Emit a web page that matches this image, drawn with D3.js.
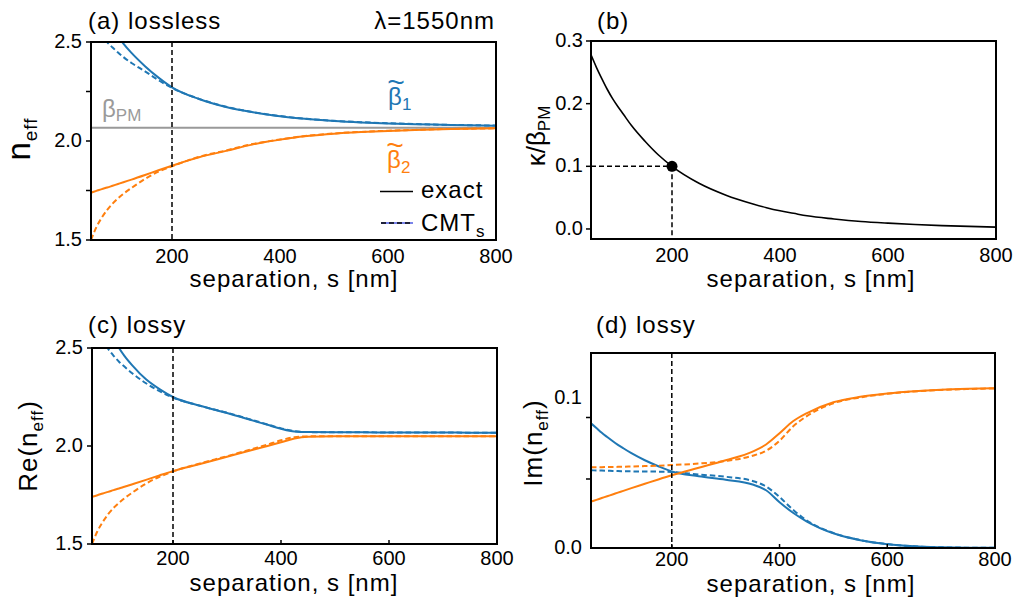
<!DOCTYPE html>
<html>
<head>
<meta charset="utf-8">
<script src="https://cdn.jsdelivr.net/npm/d3@7"></script>
<style>
  body { margin: 0; background: #fff; }
  svg { display: block; font-family: "Liberation Sans", Arial, Helvetica, sans-serif; }
</style>
</head>
<body>
<svg id="fig" width="1014" height="602"></svg>
<script>
// ---------- data ----------
// waveguide separation s [nm]
const sep = [50, 60, 70, 80, 90, 100, 110, 125, 150, 175, 200, 250, 300, 350, 375, 400, 425, 450, 500, 550, 600, 650, 700, 750, 800];
const xTickVals = [200, 400, 600, 800];
const markS = 200;

// (a) lossless: effective indices, exact and coupled-mode theory (CMT_s)
const betaPM = 2.067;
const aBeta1Exact = [2.74, 2.70, 2.655, 2.61, 2.57, 2.53, 2.492, 2.445, 2.378, 2.320, 2.271, 2.212, 2.172, 2.145, 2.134, 2.125, 2.117, 2.111, 2.101, 2.094, 2.089, 2.085, 2.082, 2.079, 2.077];
const aBeta1CMT   = [2.62, 2.58, 2.54, 2.50, 2.472, 2.447, 2.424, 2.394, 2.352, 2.307, 2.268, 2.213, 2.173, 2.146, 2.135, 2.126, 2.118, 2.112, 2.102, 2.095, 2.090, 2.086, 2.082, 2.080, 2.078];
const aBeta2Exact = [1.739, 1.748, 1.757, 1.765, 1.774, 1.783, 1.792, 1.805, 1.828, 1.852, 1.875, 1.918, 1.950, 1.983, 1.996, 2.007, 2.017, 2.025, 2.037, 2.045, 2.051, 2.056, 2.059, 2.062, 2.064];
const aBeta2CMT   = [1.500, 1.565, 1.613, 1.652, 1.684, 1.710, 1.733, 1.763, 1.808, 1.845, 1.872, 1.920, 1.952, 1.985, 1.997, 2.008, 2.018, 2.026, 2.038, 2.046, 2.052, 2.056, 2.060, 2.062, 2.064];
const aYTicks = [1.5, 1.75, 2.0, 2.25, 2.5];
const aYLabels = [1.5, 2.0, 2.5];

// (b) normalised coupling coefficient kappa / beta_PM
const bKappa = [0.278, 0.258, 0.240, 0.223, 0.208, 0.195, 0.183, 0.165, 0.140, 0.118, 0.100, 0.073, 0.054, 0.040, 0.034, 0.029, 0.025, 0.021, 0.016, 0.012, 0.0093, 0.0071, 0.0054, 0.0041, 0.003];
const bMarkKappa = 0.1;
const bYTicks = [0.0, 0.1, 0.2, 0.3];

// (c) lossy: real part of the effective index
const cRe1Exact = [2.75, 2.70, 2.65, 2.60, 2.55, 2.50, 2.46, 2.41, 2.34, 2.29, 2.25, 2.205, 2.168, 2.128, 2.108, 2.088, 2.074, 2.071, 2.070, 2.070, 2.069, 2.069, 2.069, 2.068, 2.068];
const cRe1CMT   = [2.62, 2.58, 2.535, 2.495, 2.46, 2.43, 2.405, 2.37, 2.32, 2.28, 2.247, 2.205, 2.170, 2.130, 2.110, 2.090, 2.076, 2.071, 2.070, 2.070, 2.069, 2.069, 2.069, 2.068, 2.068];
const cRe2Exact = [1.741, 1.749, 1.758, 1.766, 1.775, 1.783, 1.792, 1.805, 1.827, 1.850, 1.872, 1.908, 1.945, 1.982, 2.000, 2.019, 2.038, 2.047, 2.050, 2.050, 2.050, 2.050, 2.050, 2.050, 2.050];
const cRe2CMT   = [1.500, 1.565, 1.613, 1.652, 1.684, 1.710, 1.733, 1.763, 1.808, 1.843, 1.870, 1.911, 1.948, 1.987, 2.007, 2.029, 2.045, 2.049, 2.050, 2.050, 2.050, 2.050, 2.050, 2.050, 2.050];
const cYTicks = [1.5, 2.0, 2.5];

// (d) lossy: imaginary part of the effective index
const dIm1Exact = [0.0831, 0.0800, 0.0768, 0.0740, 0.0713, 0.0688, 0.0665, 0.0632, 0.0585, 0.0545, 0.0510, 0.0478, 0.0455, 0.0423, 0.0385, 0.0305, 0.0235, 0.0178, 0.0098, 0.0052, 0.0025, 0.0011, 0.0005, 0.0002, 0.0001];
const dIm1CMT   = [0.0518, 0.0517, 0.0516, 0.0515, 0.0514, 0.0513, 0.0512, 0.0511, 0.0510, 0.0509, 0.0507, 0.0490, 0.0475, 0.0447, 0.0410, 0.0340, 0.0255, 0.0185, 0.0100, 0.0053, 0.0026, 0.0011, 0.0005, 0.0002, 0.0001];
const dIm2Exact = [0.0309, 0.0321, 0.0333, 0.0345, 0.0357, 0.0369, 0.0381, 0.0399, 0.0428, 0.0457, 0.0485, 0.0535, 0.0585, 0.0643, 0.0690, 0.0765, 0.0845, 0.0898, 0.0972, 0.1008, 0.1030, 0.1045, 0.1055, 0.1061, 0.1065];
const dIm2CMT   = [0.0538, 0.0539, 0.0539, 0.0540, 0.0540, 0.0541, 0.0542, 0.0543, 0.0546, 0.0549, 0.0553, 0.0563, 0.0580, 0.0615, 0.0648, 0.0715, 0.0810, 0.0878, 0.0965, 0.1004, 0.1028, 0.1044, 0.1054, 0.1060, 0.1064];
const dYLabels = [0.0, 0.1];
const dYMinorTicks = [0.046, 0.087];

// ---------- drawing ----------
const BLUE = "#1f77b4", ORANGE = "#ff7f0e", GREY = "#999999";
const svg = d3.select("#fig");

const boxes = {
  a: { l: 91,  r: 496, t: 42,  b: 240, y: [1.5, 2.5] },
  b: { l: 591, r: 996, t: 41,  b: 239, y: [-0.016, 0.3] },
  c: { l: 92,  r: 497, t: 348, b: 544, y: [1.5, 2.5] },
  d: { l: 591, r: 995, t: 353, b: 548, y: [0, 0.13] }
};

// text with optional subscripts; parts: [{t}, {t, sub: px, size}]
function label(parent, x, y, parts, opts = {}) {
  const t = parent.append("text")
    .attr("x", x).attr("y", y)
    .attr("font-size", opts.size || 24)
    .attr("fill", opts.color || "#000")
    .attr("text-anchor", opts.anchor || "start")
    .style("letter-spacing", (opts.ls != null ? opts.ls : 1) + "px");
  if (opts.transform) t.attr("transform", opts.transform);
  let shift = 0;
  parts.forEach(p => {
    const s = t.append("tspan").text(p.t);
    if (p.size) s.attr("font-size", p.size);
    if (p.sub) {
      s.attr("dy", p.sub - shift);
      shift = p.sub;
    } else if (shift) {
      s.attr("dy", -shift);
      shift = 0;
    }
  });
  return t;
}

// beta with a wide tilde accent and a numeric subscript, as one text element
function betaTilde(x, y, sub, color) {
  const t = svg.append("text").attr("fill", color).attr("font-size", 24);
  t.append("tspan").attr("x", x).attr("y", y).text("β");
  t.append("tspan").attr("x", x - 0.7).attr("y", y - 13.5).attr("font-size", 30).text("~");
  t.append("tspan").attr("x", x + 14).attr("y", y + 5).attr("font-size", 17).text(sub);
}

function panel(key) {
  const bx = boxes[key];
  const x = d3.scaleLinear().domain([50, 800]).range([bx.l, bx.r]);
  const y = d3.scaleLinear().domain(bx.y).range([bx.b, bx.t]);
  const g = svg.append("g");
  const clipId = "clip-" + key;
  svg.append("clipPath").attr("id", clipId)
    .append("rect").attr("x", bx.l).attr("y", bx.t)
    .attr("width", bx.r - bx.l).attr("height", bx.b - bx.t);
  const plot = g.append("g").attr("clip-path", `url(#${clipId})`);
  return { bx, x, y, g, plot };
}

function curve(p, values, color, dashed, width = 2) {
  const line = d3.line()
    .x((d, i) => p.x(sep[i]))
    .y(d => p.y(d))
    .curve(d3.curveMonotoneX);
  const path = p.plot.append("path")
    .datum(values)
    .attr("d", line)
    .attr("fill", "none")
    .attr("stroke", color)
    .attr("stroke-width", width);
  if (dashed) path.attr("stroke-dasharray", "5.5,3");
  return path;
}

function frame(p) {
  p.g.append("rect")
    .attr("x", p.bx.l).attr("y", p.bx.t)
    .attr("width", p.bx.r - p.bx.l).attr("height", p.bx.b - p.bx.t)
    .attr("fill", "none").attr("stroke", "#000").attr("stroke-width", 2);
}

function xAxis(p, tickBase, inwardTicks) {
  if (inwardTicks) {
    p.g.selectAll(null).data(xTickVals.slice(0, -1)).join("line")
      .attr("x1", d => p.x(d)).attr("x2", d => p.x(d))
      .attr("y1", p.bx.b).attr("y2", p.bx.b - 4)
      .attr("stroke", "#000").attr("stroke-width", 1.5);
  }
  p.g.selectAll(null).data(xTickVals).join("text")
    .attr("x", d => p.x(d)).attr("y", tickBase)
    .attr("text-anchor", "middle").attr("font-size", 20)
    .text(d => d3.format("d")(d));
}

function yTickMarks(p, vals) {
  p.g.selectAll(null).data(vals).join("line")
    .attr("x1", p.bx.l - 5).attr("x2", p.bx.l)
    .attr("y1", d => p.y(d)).attr("y2", d => p.y(d))
    .attr("stroke", "#000").attr("stroke-width", 1.5);
}

function yTickLabels(p, vals, fmt, xRight) {
  p.g.selectAll(null).data(vals).join("text")
    .attr("x", xRight).attr("y", d => p.y(d) - 1)
    .attr("dy", "0.35em")
    .attr("text-anchor", "end").attr("font-size", 20)
    .text(d => d3.format(fmt)(d));
}

function vMarker(p) {
  p.plot.append("line")
    .attr("x1", p.x(markS)).attr("x2", p.x(markS))
    .attr("y1", p.bx.t).attr("y2", p.bx.b)
    .attr("stroke", "#000").attr("stroke-width", 1.5)
    .attr("stroke-dasharray", "5,3");
}

const sepTitle = [{ t: "separation, s [nm]" }];

// ----- (a) -----
const pa = panel("a");
pa.plot.append("line")
  .attr("x1", pa.bx.l).attr("x2", pa.bx.r)
  .attr("y1", pa.y(betaPM)).attr("y2", pa.y(betaPM))
  .attr("stroke", GREY).attr("stroke-width", 2);
curve(pa, aBeta1Exact, BLUE, false);
curve(pa, aBeta1CMT, BLUE, true);
curve(pa, aBeta2Exact, ORANGE, false);
curve(pa, aBeta2CMT, ORANGE, true);
vMarker(pa);
frame(pa);
yTickMarks(pa, aYTicks);
yTickLabels(pa, aYLabels, ".1f", 82);
xAxis(pa, 262.5, false);
label(svg, 294, 287, sepTitle, { anchor: "middle" });
label(svg, 0, 0, [{ t: "n" }, { t: "eff", sub: 7, size: 19 }],
  { anchor: "middle", size: 33, transform: "translate(30,139) rotate(-90)" });
label(svg, 88, 29, [{ t: "(a) lossless" }]);
label(svg, 495, 29, [{ t: "λ=1550nm" }], { anchor: "end" });
// curve labels
label(svg, 102, 117, [{ t: "β" }, { t: "PM", sub: 4, size: 17 }], { color: "#9a9a9a", ls: 0 });
betaTilde(388, 105, "1", BLUE);
betaTilde(387, 168, "2", ORANGE);
// legend
pa.g.append("line").attr("x1", 380).attr("x2", 413).attr("y1", 191.5).attr("y2", 191.5)
  .attr("stroke", "#000").attr("stroke-width", 1.5);
pa.g.append("line").attr("x1", 381).attr("x2", 413).attr("y1", 223).attr("y2", 223)
  .attr("stroke", "#2233dd").attr("stroke-width", 1.2);
pa.g.append("line").attr("x1", 381).attr("x2", 413).attr("y1", 223).attr("y2", 223)
  .attr("stroke", "#000").attr("stroke-width", 1.5).attr("stroke-dasharray", "5,3");
label(svg, 421, 197.5, [{ t: "exact" }]);
label(svg, 421, 231, [{ t: "CMT" }, { t: "s", sub: 6, size: 17 }]);

// ----- (b) -----
const pb = panel("b");
curve(pb, bKappa, "#000", false, 1.6);
pb.plot.append("line")
  .attr("x1", pb.bx.l).attr("x2", pb.x(markS))
  .attr("y1", pb.y(bMarkKappa)).attr("y2", pb.y(bMarkKappa))
  .attr("stroke", "#000").attr("stroke-width", 1.5).attr("stroke-dasharray", "5,3");
pb.plot.append("line")
  .attr("x1", pb.x(markS)).attr("x2", pb.x(markS))
  .attr("y1", pb.y(bMarkKappa)).attr("y2", pb.bx.b)
  .attr("stroke", "#000").attr("stroke-width", 1.5).attr("stroke-dasharray", "5,3");
pb.g.append("circle")
  .attr("cx", pb.x(markS)).attr("cy", pb.y(bMarkKappa)).attr("r", 5.5)
  .attr("fill", "#000");
frame(pb);
yTickMarks(pb, bYTicks);
yTickLabels(pb, bYTicks, ".1f", 583);
xAxis(pb, 261.5, false);
label(svg, 811, 287, sepTitle, { anchor: "middle" });
label(svg, 0, 0, [{ t: "κ/β" }, { t: "PM", sub: 5, size: 17 }],
  { anchor: "middle", size: 26, ls: 0, transform: "translate(545,136) rotate(-90)" });
label(svg, 597, 29, [{ t: "(b)" }]);

// ----- (c) -----
const pc = panel("c");
curve(pc, cRe1Exact, BLUE, false);
curve(pc, cRe1CMT, BLUE, true);
curve(pc, cRe2Exact, ORANGE, false);
curve(pc, cRe2CMT, ORANGE, true);
vMarker(pc);
frame(pc);
yTickMarks(pc, cYTicks);
yTickLabels(pc, cYTicks, ".1f", 83);
xAxis(pc, 564.5, true);
label(svg, 294, 590.5, sepTitle, { anchor: "middle" });
label(svg, 0, 0, [{ t: "Re(n" }, { t: "eff", sub: 6, size: 17 }, { t: ")" }],
  { anchor: "middle", size: 26, transform: "translate(37,446) rotate(-90)" });
label(svg, 88, 333, [{ t: "(c) lossy" }]);

// ----- (d) -----
const pd = panel("d");
curve(pd, dIm1Exact, BLUE, false);
curve(pd, dIm1CMT, BLUE, true);
curve(pd, dIm2Exact, ORANGE, false);
curve(pd, dIm2CMT, ORANGE, true);
vMarker(pd);
frame(pd);
yTickMarks(pd, dYMinorTicks);
yTickLabels(pd, dYLabels, ".1f", 582);
xAxis(pd, 565.5, true);
label(svg, 811, 591.5, sepTitle, { anchor: "middle" });
label(svg, 0, 0, [{ t: "Im(n" }, { t: "eff", sub: 6, size: 17 }, { t: ")" }],
  { anchor: "middle", size: 26, transform: "translate(542,443) rotate(-90)" });
label(svg, 596, 333, [{ t: "(d)  lossy" }]);
</script>
</body>
</html>
